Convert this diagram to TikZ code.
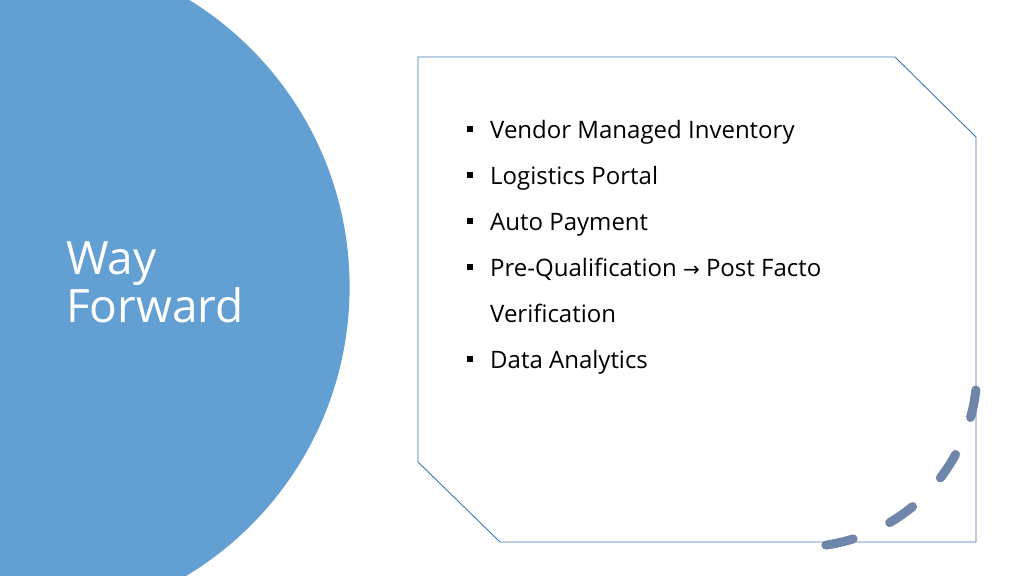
\documentclass[tikz,border=0pt]{standalone}
\usepackage{fontspec}
\setmainfont{Open Sans}
\newfontfamily\symfont{DejaVu Sans}
\usetikzlibrary{positioning}
\definecolor{circblue}{HTML}{629FD2}
\definecolor{framblue}{HTML}{3C78B4}
\definecolor{dashgrey}{HTML}{6F86AA}
\tikzset{
    item/.style = {anchor=base west, inner sep=0pt, font=\fontsize{24}{28}\selectfont},
    bullet/.style = {fill=black, minimum size=6pt, inner sep=0pt},
    title/.style = {anchor=base west, inner sep=0pt, text=white, align=left, font=\fontsize{46}{48}\selectfont}
}
\begin{document}
\begin{tikzpicture}[x=1pt,y=-1pt]
\useasboundingbox (0,0) rectangle (1024,575);
\begin{scope}
\clip (0,0) rectangle (1024,575);
\fill[circblue] (12.6,287) circle (337);
\end{scope}
\draw[framblue, line width=0.9pt] (418,57) -- (895,57) -- (976,137) -- (976,542)
    -- (500,542) -- (418,462) -- cycle;
\draw[dashgrey, line width=9pt, line cap=round, dash pattern=on 28pt off 40pt]
    (800,370) ++(6.5:177) arc[start angle=6.5, end angle=88, radius=177];
%
\node[title] (way) at (66,274) {Way};
\node[title] (fwd) at (66,322) {Forward};
%
\node[bullet] (b1) at (470,129) {};
\node[item] (t1) at (490,138) {Vendor Managed Inventory};
\node[bullet] (b2) at (470,175) {};
\node[item] (t2) at (490,184) {Logistics Portal};
\node[bullet] (b3) at (470,221) {};
\node[item] (t3) at (490,230) {Auto Payment};
\node[bullet] (b4) at (470,267) {};
\node[item] (t4) at (490,276) {Pre-Qualification {\symfont\fontsize{20}{24}\selectfont →} Post Facto};
\node[item] (t5) at (490,322) {Verification};
\node[bullet] (b6) at (470,359) {};
\node[item] (t6) at (490,368) {Data Analytics};
\end{tikzpicture}
\end{document}
